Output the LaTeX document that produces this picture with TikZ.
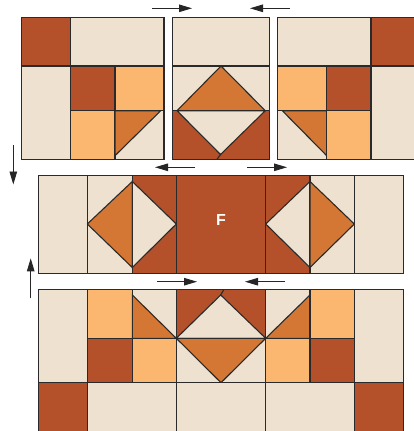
\documentclass[tikz,border=0pt]{standalone}
\usepackage{fontspec}
\setsansfont{Liberation Sans}
\usetikzlibrary{arrows.meta}
\definecolor{qdark}{HTML}{B4502A}
\definecolor{qlight}{HTML}{EEE1CF}
\definecolor{qlo}{HTML}{FBB66F}
\definecolor{qor}{HTML}{D57734}
\definecolor{qline}{HTML}{2A2A2A}
\tikzset{
  patch/.style={draw=qline, line width=1.1pt, line join=miter},
  dk/.style={patch, fill=qdark},
  lt/.style={patch, fill=qlight},
  lo/.style={patch, fill=qlo},
  ora/.style={patch, fill=qor},
  stub/.style={draw=qline, line width=1.1pt},
  arr/.style={draw=black!85, line width=0.9pt, -{Triangle[length=13pt,width=7.5pt]}},
}
\begin{document}
\begin{tikzpicture}[x=1pt,y=-1pt]
\clip (0,0) rectangle (414,431);
\fill[white] (0,0) rectangle (414,431);
% ---- top left block
\path[dk] (21.3,17.3) rectangle (70.7,66);
\path[lt] (70.7,17.3) rectangle (164,66);
\path[lt] (21.3,66) rectangle (70.7,159.3);
\path[dk] (70.7,66) rectangle (115,110.7);
\path[lo] (115,66) rectangle (164,110.7);
\path[lo] (70.7,110.7) rectangle (115,159.3);
\path[lt] (115,110.7) rectangle (164,159.3);
\path[ora] (115,110.7) -- (160.7,110.7) -- (115,155.7) -- cycle;
% ---- top middle block
\path[lt] (172.3,17.3) rectangle (269.7,66);
\path[lt] (172.3,66) rectangle (269.7,110.7);
\path[ora] (177,110.7) -- (221,66) -- (265.3,110.7) -- cycle;
\path[dk] (172.3,110.7) rectangle (269.7,159.3);
\path[lt] (177,110.7) -- (265.3,110.7) -- (220.5,154.5) -- cycle;
\coordinate (tms1) at (220.5,154.5);
\coordinate (tms2) at (217,159.3);
\draw[stub] (tms1) -- (tms2);
% ---- top right block
\path[lt] (277.7,17.3) rectangle (371,66);
\path[dk] (371,17.3) rectangle (420.4,66);
\path[lt] (371,66) rectangle (420.4,159.3);
\path[lo] (277.7,66) rectangle (326.7,110.7);
\path[dk] (326.7,66) rectangle (371,110.7);
\path[lt] (277.7,110.7) rectangle (326.7,159.3);
\path[ora] (282.3,110.7) -- (326.7,110.7) -- (326.7,155.7) -- cycle;
\path[lo] (326.7,110.7) rectangle (371,159.3);
% ---- middle row
\path[lt] (38.7,175.3) rectangle (87.3,273.3);
\path[lt] (87.3,175.3) rectangle (132.3,273.3);
\path[ora] (87.3,224) -- (132.3,181.5) -- (132.3,267.5) -- cycle;
\path[dk] (132.3,175.3) rectangle (176.3,273.3);
\path[lt] (132.3,181.5) -- (176.3,224) -- (132.3,267.5) -- cycle;
\path[dk] (176.3,175.3) rectangle (265.7,273.3);
\path[dk] (265.7,175.3) rectangle (310,273.3);
\path[lt] (310,181.5) -- (265.7,224) -- (310,267.5) -- cycle;
\path[lt] (310,175.3) rectangle (354.3,273.3);
\path[ora] (310,181.5) -- (354.3,224) -- (310,267.5) -- cycle;
\path[lt] (354.3,175.3) rectangle (403.3,273.3);
\node[text=white, font=\sffamily\bfseries\fontsize{16}{16}\selectfont] (F) at (221,220) {F};
% ---- bottom block
\path[lt] (38.7,289.3) rectangle (87.3,382.7);
\path[lo] (87.3,289.3) rectangle (132.3,338.3);
\path[dk] (87.3,338.3) rectangle (132.3,382.7);
\path[lt] (132.3,289.3) rectangle (176.3,338.3);
\path[ora] (132.3,295) -- (176.3,338.3) -- (132.3,338.3) -- cycle;
\path[lo] (132.3,338.3) rectangle (176.3,382.7);
\path[dk] (176.3,289.3) rectangle (265.7,338.3);
\path[lt] (176.3,338.3) -- (220.7,295) -- (265.7,338.3) -- cycle;
\coordinate (bms1) at (220.7,295);
\coordinate (bms2) at (224,289.3);
\draw[stub] (bms1) -- (bms2);
\path[lt] (176.3,338.3) rectangle (265.7,382.7);
\path[ora] (176.3,338.3) -- (265.7,338.3) -- (221,382.7) -- cycle;
\path[lt] (265.7,289.3) rectangle (310,338.3);
\path[ora] (310,295) -- (310,338.3) -- (265.7,338.3) -- cycle;
\path[lo] (265.7,338.3) rectangle (310,382.7);
\path[lo] (310,289.3) rectangle (354.3,338.3);
\path[dk] (310,338.3) rectangle (354.3,382.7);
\path[lt] (354.3,289.3) rectangle (403.3,382.7);
\path[dk] (38.7,382.7) rectangle (87.3,431.7);
\path[lt] (87.3,382.7) rectangle (176.3,431.7);
\path[lt] (176.3,382.7) rectangle (265.7,431.7);
\path[lt] (265.7,382.7) rectangle (354.3,431.7);
\path[dk] (354.3,382.7) rectangle (403.3,431.7);
% ---- arrows
\coordinate (a1s) at (152,8.3);   \coordinate (a1e) at (192,8.3);
\coordinate (a2s) at (290,8.3);   \coordinate (a2e) at (250,8.3);
\coordinate (a3s) at (195,167.3); \coordinate (a3e) at (155,167.3);
\coordinate (a4s) at (247,167.3); \coordinate (a4e) at (287,167.3);
\coordinate (a5s) at (157.3,281.7); \coordinate (a5e) at (197,281.7);
\coordinate (a6s) at (285,281.7); \coordinate (a6e) at (245,281.7);
\coordinate (a7s) at (13.3,145);  \coordinate (a7e) at (13.3,184.5);
\coordinate (a8s) at (30.7,298.3); \coordinate (a8e) at (30.7,258.3);
\draw[arr] (a1s) -- (a1e);
\draw[arr] (a2s) -- (a2e);
\draw[arr] (a3s) -- (a3e);
\draw[arr] (a4s) -- (a4e);
\draw[arr] (a5s) -- (a5e);
\draw[arr] (a6s) -- (a6e);
\draw[arr] (a7s) -- (a7e);
\draw[arr] (a8s) -- (a8e);
\end{tikzpicture}
\end{document}
